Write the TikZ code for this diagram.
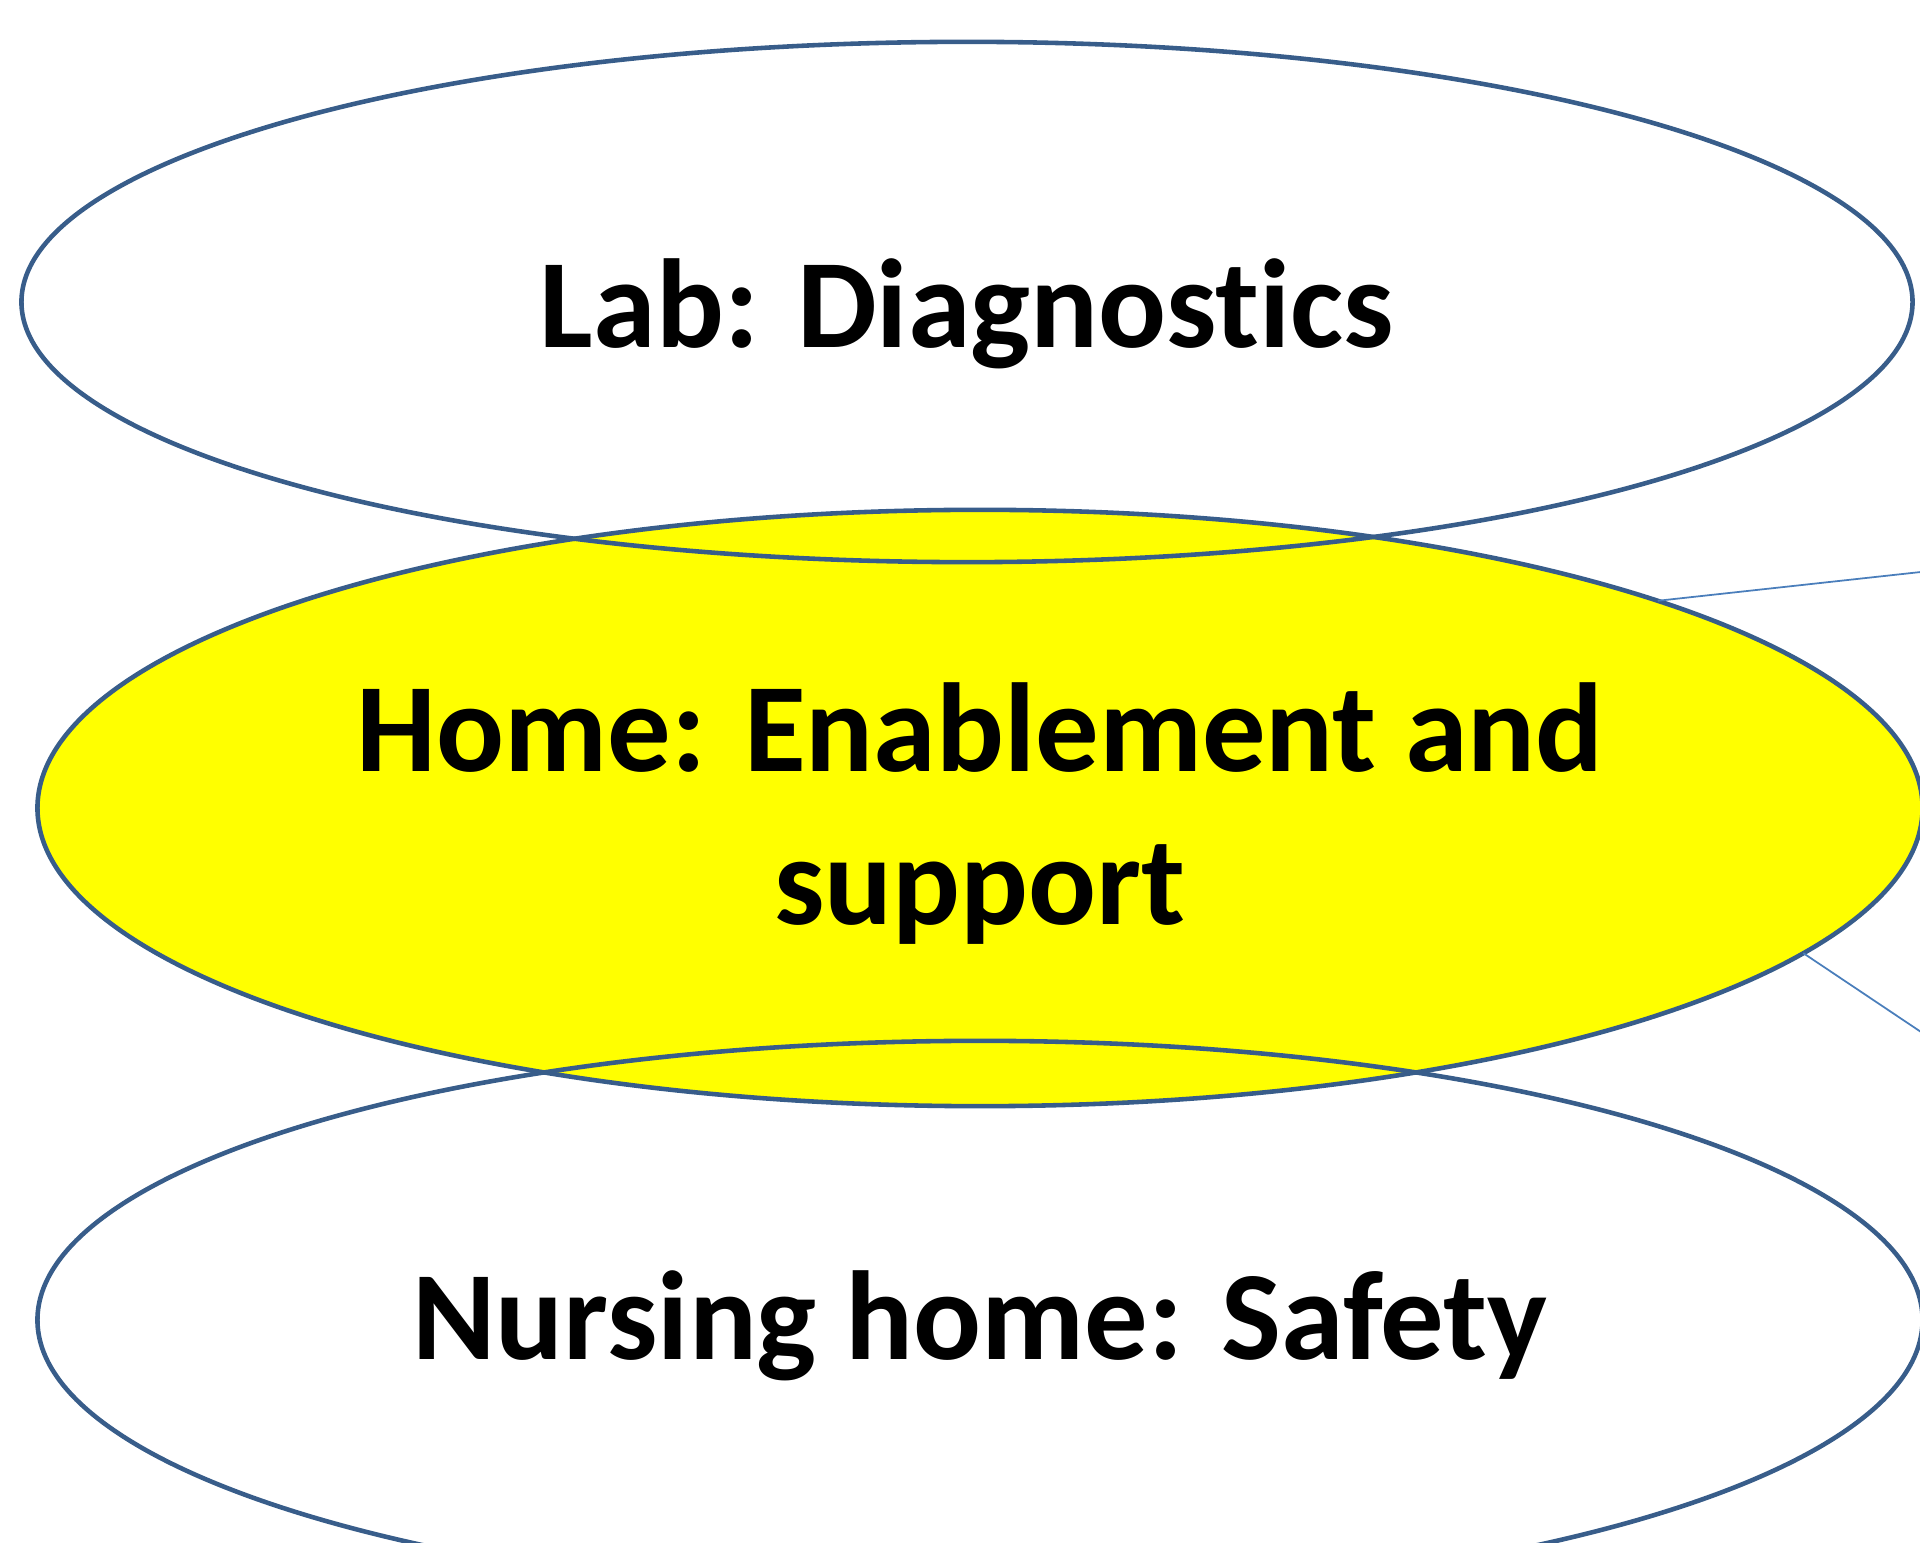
\documentclass[tikz,border=0pt]{standalone}
\usepackage{fontspec}
\setmainfont{Carlito}[Ligatures=NoCommon]
\usepackage{tikz}
\usetikzlibrary{shapes,calc,positioning}
\definecolor{rim}{RGB}{56,93,138}
\definecolor{wire}{RGB}{74,126,187}
\definecolor{sun}{RGB}{255,255,0}
\tikzstyle{setting}=[ellipse, draw=rim, line width=1.3pt, inner sep=0pt, outer sep=0pt,
  align=center, font=\fontsize{36}{43.5}\selectfont\bfseries,
  text height=22.7pt, text depth=0pt]

\begin{document}
\begin{tikzpicture}[x=0.01cm, y=-0.01cm]
  \useasboundingbox (0,0) rectangle (1920,1543);
  % Home (filled, so it goes first)
  \node[setting, fill=sun, minimum width=18.84cm, minimum height=5.96cm,
    text height=66.2pt]
    (home) at (980,808) {Home: Enablement and\\support};
  % Lab
  \node[setting, minimum width=18.9cm, minimum height=5.2cm, text height=26pt]
    (lab) at (967,302) {Lab: Diagnostics};
  % Nursing home
  \node[setting, minimum width=18.84cm, minimum height=5.58cm]
    (nursing) at (980,1320) {Nursing home: Safety};
  % lines
  \coordinate (out1) at (1930,571);
  \coordinate (out2) at (1930,1038);
  \draw[wire, line width=0.5pt] (home.17.3) -- (out1);
  \draw[wire, line width=0.5pt] (home.-10.6) -- (out2);
\end{tikzpicture}
\end{document}
